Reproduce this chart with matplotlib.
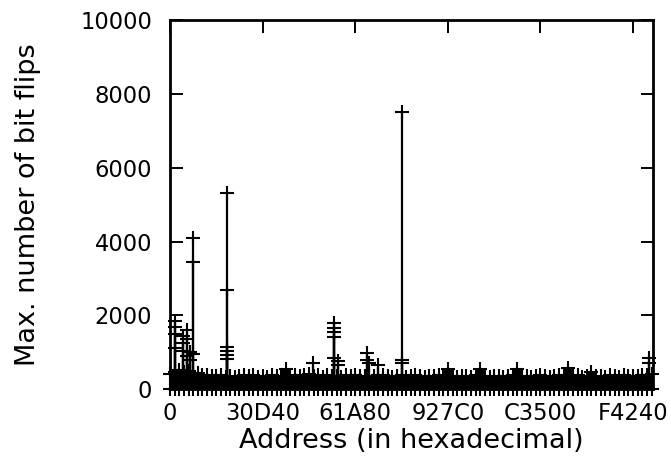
import numpy as np
import matplotlib
matplotlib.use("Agg")
import matplotlib.pyplot as plt

plt.rcParams['font.family'] = ['DejaVu Sans']

# background level of bit flips, one sample every 0x2710 addresses
base_step = 10000
base_height = [
    420, 480, 520, 470, 500, 450, 430, 400, 380, 360,
    350, 390, 340, 370, 330, 360, 380, 350, 400, 340,
    360, 330, 380, 350, 370, 560, 340, 380, 360, 390,
    420, 350, 380, 340, 400, 370, 350, 330, 380, 360,
    390, 350, 370, 340, 360, 380, 400, 350, 330, 370,
    380, 340, 360, 390, 350, 330, 370, 360, 380, 400,
    540, 350, 330, 370, 360, 340, 380, 550, 360, 340,
    370, 350, 330, 360, 390, 540, 350, 370, 340, 360,
    380, 350, 330, 370, 400, 360, 575, 350, 380, 340,
    360, 480, 350, 370, 340, 380, 360, 330, 390, 360,
    370, 350, 400, 380, 420,
]

# addresses with a high number of bit flips
spike_addr = [
    10000, 10000, 10000, 10000,
    28000, 28000, 28000,
    36000, 36000, 36000,
    44000, 44000,
    50000, 50000, 50000,
    124000, 124000, 124000, 124000, 124000, 124000,
    308000,
    355000, 355000, 355000, 355000, 355000,
    362000, 362000,
    425000, 425000, 430000,
    450000,
    500000, 500000, 500000,
    1034000, 1034000,
]
spike_val = [
    1850, 1680, 1500, 1120,
    1450, 1250, 1050,
    1600, 1350, 900,
    1000, 800,
    4090, 3455, 950,
    5325, 2690, 1155, 1045, 930, 815,
    710,
    1795, 1660, 1540, 1420, 850,
    760, 660,
    985, 795, 710,
    660,
    7500, 795, 710,
    840, 700,
]

x_ticks = [0, 200000, 400000, 600000, 800000, 1000000]
y_ticks = [0, 2000, 4000, 6000, 8000, 10000]

base_addr = np.arange(len(base_height)) * base_step

fig = plt.figure(figsize=(6.71, 4.73), dpi=100)
ax = fig.add_axes([0.2534, 0.177, 0.7198, 0.7806])

# solid band of low counts, crosses on top and along the floor
ax.vlines(base_addr, 0, base_height, colors='black', linewidth=6)
ax.plot(base_addr, base_height, '+', color='black', ms=9.4, mew=1.5, clip_on=False)
ax.plot(base_addr, np.zeros(len(base_addr)), '+', color='black', ms=9.4, mew=1.5, clip_on=False)

ax.vlines(spike_addr, 0, spike_val, colors='black', linewidth=1.6)
ax.plot(spike_addr, spike_val, '+', color='black', ms=9.4, mew=1.5, clip_on=False)

ax.set_xlim(0, 1043000)
ax.set_ylim(0, 10000)
ax.set_xticks(x_ticks)
ax.set_xticklabels([format(v, 'X') for v in x_ticks])
ax.set_yticks(y_ticks)

ax.tick_params(direction='in', length=9, width=1.4, labelsize=16.3,
               top=True, right=True)
ax.tick_params(axis='x', pad=9)
ax.tick_params(axis='y', pad=13)
for s in ax.spines.values():
    s.set_linewidth(2)

ax.set_xlabel('Address (in hexadecimal)', fontsize=19.5, labelpad=2)
ax.set_ylabel('Max. number of bit flips', fontsize=19.5, labelpad=28)

fig.savefig('out.png', dpi=100)
